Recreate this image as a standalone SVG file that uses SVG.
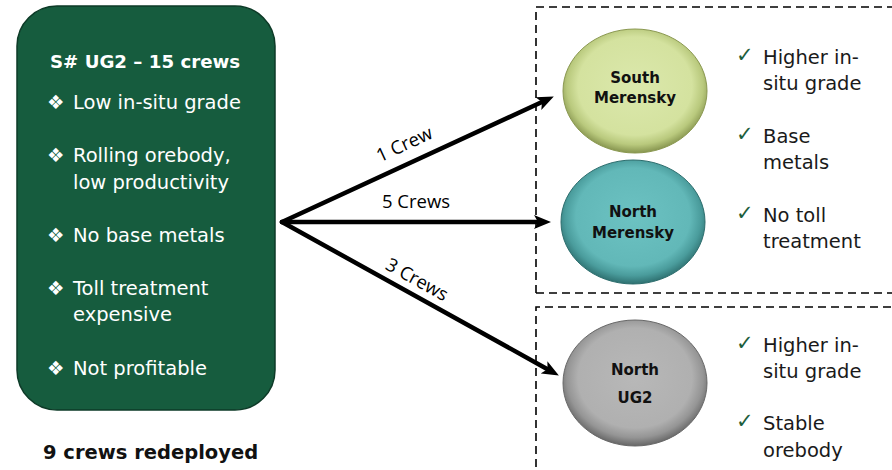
<svg xmlns="http://www.w3.org/2000/svg" width="892" height="470" viewBox="0 0 892 470">
<style>
.body{font-family:"DejaVu Sans","Liberation Sans",sans-serif;font-size:19.5px}
.wt{fill:#ffffff}
.dk{fill:#1a1a1a}
.ttl{font-family:"DejaVu Sans","Liberation Sans",sans-serif;font-size:18.2px;font-weight:bold;fill:#ffffff}
.nl{font-family:"DejaVu Sans","Liberation Sans",sans-serif;font-size:15px;font-weight:bold;fill:#111111;text-anchor:middle}
.al{font-family:"Open Sans","Liberation Sans",sans-serif;font-size:18.5px;fill:#000000;text-anchor:middle}
.ck{font-family:"DejaVu Sans",sans-serif;font-size:21px;fill:#1e5e3c}
.conn{stroke:#000000;stroke-width:4.5;fill:none;stroke-linecap:round;marker-end:url(#ah)}
.dash{fill:none;stroke:#000000;stroke-width:1.6;stroke-dasharray:8 5}
</style>
<defs>
<marker id="ah" markerUnits="userSpaceOnUse" markerWidth="18" markerHeight="16" refX="4" refY="8" orient="auto" viewBox="0 0 18 16">
<path d="M0,1 L17,8 L0,15 L4,8 z" fill="#000000"/>
</marker>
<radialGradient id="gSM" cx="50%" cy="46%" r="55%">
<stop offset="0" stop-color="#dbe8ac"/>
<stop offset="0.72" stop-color="#d4e29f"/>
<stop offset="0.86" stop-color="#b9c97d"/>
<stop offset="1" stop-color="#7f8d48"/>
</radialGradient>
<radialGradient id="gNM" cx="50%" cy="46%" r="55%">
<stop offset="0" stop-color="#6cc2c2"/>
<stop offset="0.72" stop-color="#62b8b8"/>
<stop offset="0.86" stop-color="#4a9c9c"/>
<stop offset="1" stop-color="#2a6a6a"/>
</radialGradient>
<radialGradient id="gNU" cx="50%" cy="46%" r="55%">
<stop offset="0" stop-color="#b8b8b8"/>
<stop offset="0.72" stop-color="#b0b0b0"/>
<stop offset="0.86" stop-color="#959595"/>
<stop offset="1" stop-color="#606060"/>
</radialGradient>
</defs>
<rect width="892" height="470" fill="#ffffff"/>

<g id="regions">
<path class="dash" d="M536,293 L536,7 L900,7 M536,293 L900,293"/>
<path class="dash" d="M536,480 L536,307 L900,307"/>
</g>

<g id="ug2-box">
<rect x="17" y="6" width="258" height="404" rx="40" ry="40" fill="#165c3e" stroke="#0d3a27" stroke-width="1.5"/>
<text class="ttl" x="50" y="68">S# UG2 – 15 crews</text>
<text class="body wt" x="47" y="109">❖</text><text class="body wt" x="73" y="109">Low in-situ grade</text>
<text class="body wt" x="47" y="162">❖</text><text class="body wt" x="73" y="162">Rolling orebody,</text>
<text class="body wt" x="73" y="189">low productivity</text>
<text class="body wt" x="47" y="242">❖</text><text class="body wt" x="73" y="242">No base metals</text>
<text class="body wt" x="47" y="295">❖</text><text class="body wt" x="73" y="295">Toll treatment</text>
<text class="body wt" x="73" y="321">expensive</text>
<text class="body wt" x="47" y="375">❖</text><text class="body wt" x="73" y="375">Not profitable</text>
</g>

<g id="caption">
<text x="43" y="459" style="font-family:'DejaVu Sans','Liberation Sans',sans-serif;font-size:19.5px;font-weight:bold;fill:#111111">9 crews redeployed</text>
</g>

<g id="connectors">
<line class="conn" x1="282" y1="222" x2="542" y2="102"/>
<line class="conn" x1="282" y1="222" x2="538" y2="222"/>
<line class="conn" x1="282" y1="222" x2="547.5" y2="369.2"/>
<text class="al" transform="translate(407,150) rotate(-24.8)">1 Crew</text>
<text class="al" x="416" y="208">5 Crews</text>
<text class="al" transform="translate(414,285) rotate(29)">3 Crews</text>
</g>

<g id="south-merensky">
<ellipse cx="635" cy="91" rx="72" ry="62" fill="url(#gSM)" stroke="#8a9850" stroke-width="1"/>
<text class="nl" x="635" y="83">South</text>
<text class="nl" x="635" y="103">Merensky</text>
</g>

<g id="north-merensky">
<ellipse cx="633" cy="222" rx="72" ry="62" fill="url(#gNM)" stroke="#2c6d6d" stroke-width="1"/>
<text class="nl" x="633" y="217">North</text>
<text class="nl" x="633" y="238">Merensky</text>
</g>

<g id="north-ug2">
<ellipse cx="635" cy="383" rx="72" ry="63" fill="url(#gNU)" stroke="#686868" stroke-width="1"/>
<text class="nl" x="635" y="375">North</text>
<text class="nl" x="635" y="403">UG2</text>
</g>

<g id="merensky-benefits">
<text class="ck" x="736" y="62">✓</text><text class="body dk" x="763" y="64">Higher in-</text>
<text class="body dk" x="763" y="90">situ grade</text>
<text class="ck" x="736" y="141">✓</text><text class="body dk" x="763" y="143">Base</text>
<text class="body dk" x="763" y="169">metals</text>
<text class="ck" x="736" y="220">✓</text><text class="body dk" x="763" y="222">No toll</text>
<text class="body dk" x="763" y="248">treatment</text>
</g>

<g id="ug2-benefits">
<text class="ck" x="736" y="350">✓</text><text class="body dk" x="763" y="352">Higher in-</text>
<text class="body dk" x="763" y="378">situ grade</text>
<text class="ck" x="736" y="428">✓</text><text class="body dk" x="763" y="430">Stable</text>
<text class="body dk" x="763" y="457">orebody</text>
</g>
</svg>
